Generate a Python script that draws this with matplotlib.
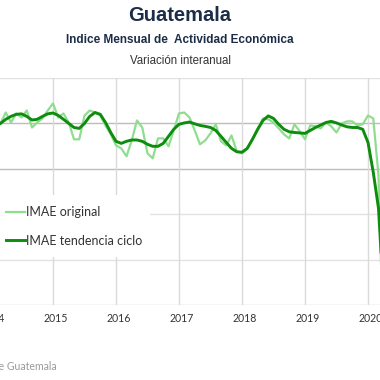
import matplotlib
matplotlib.use("Agg")
import matplotlib.pyplot as plt
import numpy as np
import pandas as pd
from matplotlib.lines import Line2D
from matplotlib.patches import Rectangle
from matplotlib.transforms import ScaledTranslation

# ---------------- data ----------------
months = pd.date_range("2014-01-01", "2020-04-01", freq="MS")

imae_original = [
    3.91, 4.22, 4.00, 4.48, 4.04, 4.44, 4.26, 4.57, 3.82, 4.04, 4.22, 4.57,   # 2014
    4.88, 4.26, 4.44, 4.04, 3.30, 3.30, 4.35, 4.57, 4.48, 4.35, 3.91, 3.52,   # 2015
    3.03, 2.90, 2.55, 3.25, 4.13, 3.82, 2.68, 2.46, 3.34, 3.34, 2.99, 3.69,   # 2016
    4.44, 4.48, 4.26, 3.69, 3.08, 3.25, 3.56, 3.96, 3.21, 3.03, 3.47, 2.77,   # 2017
    2.68, 2.90, 3.34, 3.78, 4.22, 4.18, 4.04, 3.78, 3.52, 3.34, 3.96, 3.65,   # 2018
    3.30, 3.91, 3.87, 3.78, 4.04, 3.87, 3.60, 4.00, 4.09, 4.09, 3.91, 3.96,   # 2019
    4.35, 4.22, 1.71, -6.50,                                                  # 2020
]
imae_tendencia = [
    3.78, 3.87, 4.00, 4.18, 4.31, 4.40, 4.42, 4.31, 4.15, 4.18, 4.31, 4.42,   # 2014
    4.46, 4.35, 4.18, 4.00, 3.82, 3.78, 4.00, 4.31, 4.48, 4.40, 4.04, 3.60,   # 2015
    3.21, 3.12, 3.21, 3.27, 3.27, 3.21, 3.08, 2.99, 2.99, 3.12, 3.43, 3.74,   # 2016
    3.96, 4.02, 4.06, 3.98, 3.91, 3.87, 3.82, 3.69, 3.43, 3.16, 2.90, 2.75,   # 2017
    2.73, 2.90, 3.30, 3.74, 4.13, 4.33, 4.22, 3.96, 3.74, 3.63, 3.60, 3.58,   # 2018
    3.56, 3.69, 3.82, 3.93, 4.04, 4.09, 4.02, 3.93, 3.85, 3.82, 3.82, 3.74,   # 2019
    3.16, 1.85, 0.26, -3.78,                                                  # 2020
]
series_labels = ["IMAE original", "IMAE tendencia ciclo"]
year_ticks = [2014, 2015, 2016, 2017, 2018, 2019, 2020]
y_ticks = [-4, -2, 0, 2, 4, 6]

title = "Guatemala"
subtitle = "Indice Mensual de  Actividad Económica"
subsubtitle = "Variación interanual"
source = "Fuente: Banco de Guatemala"

# ---------------- layout ----------------
W = H = 380
fig = plt.figure(figsize=(W / 100, H / 100), dpi=100)
fig.patch.set_facecolor("white")

X2015, PXY = 53.0, 63.0           # pixel of Jan 2015, pixels per year
xlim = (2013.85, 2020.6)
left_px = X2015 + PXY * (xlim[0] - 2015)
right_px = X2015 + PXY * (xlim[1] - 2015)
top_px, bot_px = 78.0, 305.0
ax = fig.add_axes([left_px / W, 1 - bot_px / H, (right_px - left_px) / W, (bot_px - top_px) / H])

t = months.year + (months.month - 1) / 12.0

LIGHT = "#90dd90"
DARK = "#0e8c0e"

ax.plot(t, imae_original, color=LIGHT, lw=1.6, solid_joinstyle="round", zorder=3)
ax.plot(t, imae_tendencia, color=DARK, lw=2.1, solid_joinstyle="round", zorder=4)

ax.set_xlim(*xlim)
ax.set_ylim(y_ticks[0], y_ticks[-1])

# grid
for yv in y_ticks:
    col = "#bcbcbc" if yv in (2, 4) else "#e2e2e2"
    if yv == y_ticks[0]:
        col = "#cccccc"
    ax.axhline(yv, color=col, lw=1.0, zorder=1)
for xv in year_ticks:
    ax.axvline(xv, color="#dadada", lw=1.0, zorder=1)

for s in ax.spines.values():
    s.set_visible(False)
ax.set_yticks([])
ax.set_xticks(year_ticks)
ax.set_xticklabels([str(y) for y in year_ticks], fontsize=7.6, color="#333333", family="Lato")
ax.tick_params(axis="x", length=0, pad=6)
for lab in ax.get_xticklabels():
    lab.set_transform(lab.get_transform() + ScaledTranslation(3 / 100, 0, fig.dpi_scale_trans))

# legend background box
ax.add_patch(Rectangle((-5 / W, 1 - 257 / H), 155 / W, 62 / H, transform=fig.transFigure,
                       facecolor="white", edgecolor="none", zorder=2, clip_on=False))
handles = [Line2D([], [], color=LIGHT, lw=1.6), Line2D([], [], color=DARK, lw=2.1)]
leg = ax.legend(handles, series_labels, loc="upper left",
                bbox_to_anchor=(-5 / W, 1 - 195 / H), bbox_transform=fig.transFigure,
                frameon=False, prop={"family": "Lato", "size": 9.0},
                handlelength=1.5, handletextpad=0.1, labelspacing=1.3,
                borderpad=0.9, borderaxespad=0)
for txt in leg.get_texts():
    txt.set_color("#333333")
leg.set_zorder(6)

# titles
cx = 180 / W
fig.text(cx, 1 - 21 / H, title, ha="center", va="baseline", fontsize=14.5,
         fontweight="bold", color="#1b2d47", family="Liberation Sans")
fig.text(cx, 1 - 43 / H, subtitle, ha="center", va="baseline", fontsize=8.5,
         fontweight="bold", color="#1b2d47", family="Liberation Sans")
fig.text(cx, 1 - 63.5 / H, subsubtitle, ha="center", va="baseline", fontsize=8.3,
         color="#333333", family="Liberation Sans")

fig.text(57 / W, 1 - 370.5 / H, source, ha="right", va="baseline", fontsize=7.6,
         color="#9a9a9a", family="Lato")

fig.savefig("out.png", dpi=100, facecolor="white")
